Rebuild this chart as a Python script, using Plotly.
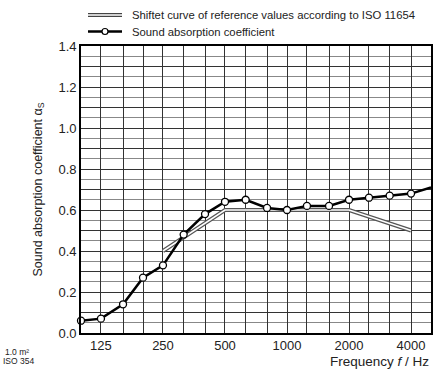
import plotly.graph_objects as go

freqs = [100, 125, 160, 200, 250, 315, 400, 500, 630, 800, 1000, 1250, 1600, 2000, 2500, 3150, 4000, 5000]
alpha_s = [0.06, 0.07, 0.14, 0.27, 0.33, 0.48, 0.58, 0.64, 0.65, 0.61, 0.60, 0.62, 0.62, 0.65, 0.66, 0.67, 0.68, 0.71]
ref_freqs = [250, 500, 1000, 2000, 4000]
ref_values = [0.40, 0.60, 0.60, 0.60, 0.50]
x_labels = {125: "125", 250: "250", 500: "500", 1000: "1000", 2000: "2000", 4000: "4000"}
y_major = [round(0.1 * i, 1) for i in range(15)]
y_labels = ["%.1f" % v if i % 2 == 0 else "" for i, v in enumerate(y_major)]

FONT = "Liberation Sans, Arial, sans-serif"
TXT = "#222222"

fig = go.Figure()
# double line reference curve
fig.add_trace(go.Scatter(x=ref_freqs, y=ref_values, mode="lines",
                         line=dict(color="#555555", width=4), hoverinfo="skip", showlegend=False))
fig.add_trace(go.Scatter(x=ref_freqs, y=ref_values, mode="lines",
                         line=dict(color="white", width=1.5), hoverinfo="skip", showlegend=False))
fig.add_trace(go.Scatter(x=freqs, y=alpha_s, mode="lines+markers",
                         line=dict(color="black", width=2.5),
                         marker=dict(symbol="circle", size=7, color="white",
                                     line=dict(color="black", width=1.3)),
                         showlegend=False, cliponaxis=False))

fig.update_xaxes(type="log", range=[2, 3.69897],
                 tickmode="array", tickvals=freqs,
                 ticktext=[x_labels.get(f, "") for f in freqs],
                 showgrid=True, gridcolor="#333333", gridwidth=1.2,
                 showline=True, linecolor="black", linewidth=1.6, mirror=True,
                 ticks="", zeroline=False,
                 tickfont=dict(family=FONT, size=13, color=TXT))
fig.update_yaxes(range=[0, 1.4], tickmode="array", tickvals=y_major, ticktext=y_labels,
                 showgrid=True, gridcolor="#333333", gridwidth=1.2,
                 minor=dict(dtick=0.05, tick0=0, showgrid=True, gridcolor="#888888", gridwidth=1),
                 showline=True, linecolor="black", linewidth=1.6, mirror=True,
                 ticks="", zeroline=False,
                 tickfont=dict(family=FONT, size=13, color=TXT))

# manual legend
def py(p):
    return (333 - p) / 287.0

def px(p):
    return (p - 81) / 350.0

shapes = [
    dict(type="line", xref="paper", yref="paper", x0=px(88), x1=px(122), y0=py(15), y1=py(15),
         line=dict(color="#444444", width=4)),
    dict(type="line", xref="paper", yref="paper", x0=px(88), x1=px(122), y0=py(15), y1=py(15),
         line=dict(color="white", width=1.4)),
    dict(type="line", xref="paper", yref="paper", x0=px(88), x1=px(122), y0=py(31.5), y1=py(31.5),
         line=dict(color="black", width=2.5)),
    dict(type="circle", xref="paper", yref="paper", x0=px(102), x1=px(108), y0=py(34.5), y1=py(28.5),
         fillcolor="white", line=dict(color="black", width=1.2)),
]
fig.update_layout(shapes=shapes)

annos = [
    dict(text="Shiftet curve of reference values according to ISO 11654", x=px(130), y=py(15),
         xanchor="left", yanchor="middle", font=dict(size=11.3)),
    dict(text="Sound absorption coefficient", x=px(130), y=py(31.5),
         xanchor="left", yanchor="middle", font=dict(size=11.3)),
    dict(text="Frequency <i>f</i> / Hz", x=1.0, y=py(361),
         xanchor="right", yanchor="middle", font=dict(size=13.5)),
    dict(text="Sound absorption coefficient α<sub>S</sub>", x=px(38), y=0.5, textangle=-90,
         xanchor="center", yanchor="middle", font=dict(size=12.5)),
    dict(text="1.0 m²", x=px(31), y=py(352), xanchor="right", yanchor="middle", font=dict(size=8.5)),
    dict(text="ISO 354", x=px(36), y=py(361), xanchor="right", yanchor="middle", font=dict(size=8.5)),
]
for a in annos:
    a.update(xref="paper", yref="paper", showarrow=False)
    a["font"].update(family=FONT, color=TXT)
fig.update_layout(annotations=annos)

fig.update_layout(width=447, height=370,
                  margin=dict(l=81, r=16, t=46, b=37),
                  plot_bgcolor="white", paper_bgcolor="white",
                  showlegend=False)

fig.write_html("out.html", config={"displayModeBar": False},
               post_script="document.body.style.margin='0';document.body.style.padding='0';")
